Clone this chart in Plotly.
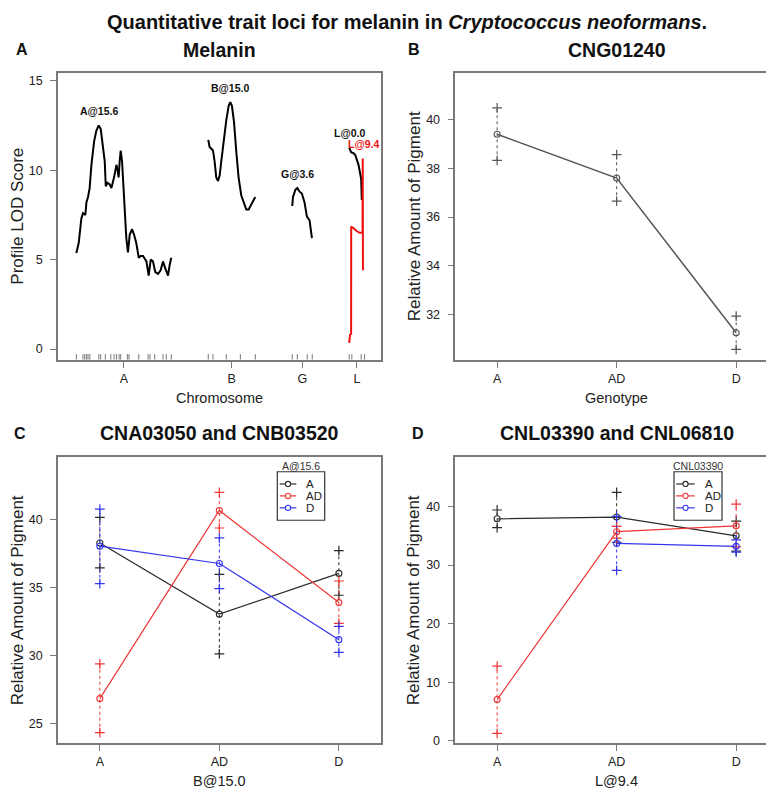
import plotly.graph_objects as go

W, H = 774, 789
FONT = "Liberation Sans, Arial, sans-serif"

# ---------------- Panel A : LOD profiles ----------------
chrom_names = ["A", "B", "G", "L"]
chrom_lengths = [64.2, 31.8, 13.5, 10.4]
chrom_gap = 25.0

markers_A = [0, 4.5, 5.7, 6.8, 7.9, 9.1, 15.2, 16.5, 19.6, 23.3, 25.5, 27.1, 28.9,
             30.0, 34.5, 35.6, 42.2, 48.5, 49.8, 53.0, 58.6, 60.8, 64.2]
markers_B = [0, 3.2, 12.2, 21.7, 31.8]
markers_G = [0, 3.4, 10.1, 13.5]
markers_L = [0, 1.8, 8.1, 10.4]

lod_A_pos = [0.0, 1.6, 3.4, 4.5, 6.1, 6.8, 7.9, 9.0, 10.2, 12.0, 13.5, 15.1, 16.5, 18.1,
             19.2, 19.9, 21.0, 22.6, 23.7, 25.5, 27.1, 27.7, 28.6, 29.3, 30.0, 30.9,
             32.3, 33.8, 34.9, 36.1, 37.7, 39.0, 40.6, 42.2, 43.5, 45.1, 47.4, 48.9,
             50.3, 51.8, 53.4, 55.2, 57.0, 58.6, 60.2, 62.0, 63.1, 64.2]
lod_A = [5.37, 5.93, 7.3, 7.6, 7.5, 8.2, 8.5, 9.0, 10.3, 11.6, 12.2, 12.5, 12.3, 11.2,
         10.5, 9.1, 9.3, 9.2, 9.0, 9.6, 10.3, 10.1, 9.6, 10.5, 11.1, 10.5,
         8.2, 6.2, 5.4, 6.4, 6.7, 6.4, 5.9, 5.1, 5.2, 5.2, 4.9, 4.1,
         5.0, 4.9, 4.3, 4.2, 4.4, 4.9, 4.5, 4.1, 4.7, 5.1]

lod_B_pos = [0.0, 0.9, 2.1, 3.2, 4.3, 5.4, 6.6, 7.7, 8.8, 10.6, 12.2, 13.8, 14.9, 16.0,
             17.4, 19.0, 20.5, 22.3, 24.1, 25.7, 27.3, 29.1, 30.2, 31.8]
lod_B = [11.7, 11.3, 11.2, 11.1, 10.5, 9.6, 9.4, 9.7, 10.5, 11.8, 12.8, 13.6, 13.8, 13.6,
         12.7, 11.0, 9.6, 8.6, 8.1, 7.8, 7.8, 8.1, 8.2, 8.5]

lod_G_pos = [0.0, 0.5, 2.1, 3.4, 5.0, 6.5, 8.3, 9.9, 11.7, 13.3]
lod_G = [8.0, 8.5, 8.9, 9.0, 8.8, 8.7, 8.2, 7.4, 7.2, 6.2]

lod_L_pos = [0.0, 1.35, 2.9, 4.1, 6.3, 7.4, 8.1, 8.5]
lod_L = [11.26, 11.0, 10.96, 10.85, 10.3, 9.7, 9.5, 8.33]

lod_L2_pos = [0.0, 0.6, 1.3, 1.35, 2.0, 3.0, 5.0, 7.0, 9.0, 9.15, 9.3]
lod_L2 = [0.35, 0.8, 0.85, 6.85, 6.8, 6.75, 6.6, 6.5, 6.5, 10.65, 4.4]

peak_labels = ["A@15.6", "B@15.0", "G@3.6", "L@0.0", "L@9.4"]

# ---------------- Panel B : CNG01240 ----------------
genotypes = ["A", "AD", "D"]
b_mean = [39.4, 37.6, 31.25]
b_upper = [40.48, 38.56, 31.93]
b_lower = [38.33, 36.65, 30.57]

# ---------------- Panel C : CNA03050 and CNB03520 ----------------
c_mean_A = [38.29, 33.05, 36.05]
c_up_A = [40.17, 35.98, 37.73]
c_lo_A = [36.46, 30.12, 34.44]
c_mean_AD = [26.83, 40.68, 33.9]
c_up_AD = [29.39, 42.02, 35.49]
c_lo_AD = [24.32, 39.39, 32.37]
c_mean_D = [38.05, 36.78, 31.17]
c_up_D = [40.78, 38.66, 32.15]
c_lo_D = [35.29, 34.93, 30.24]

# ---------------- Panel D : CNL03390 and CNL06810 ----------------
d_mean_A = [37.9, 38.2, 35.0]
d_up_A = [39.4, 42.4, 37.5]
d_lo_A = [36.4, 33.9, 32.4]
d_mean_AD = [7.06, 35.7, 36.7]
d_up_AD = [12.77, 36.6, 40.4]
d_lo_AD = [1.3, 34.6, 33.1]
d_mean_D = [None, 33.7, 33.2]
d_up_D = [None, 38.3, 34.3]
d_lo_D = [None, 29.1, 32.2]

legend_groups = ["A", "AD", "D"]

# ---------------- styling ----------------
BLK = "#2b2b2b"
RED = "#ee3535"
BLU = "#3535ee"
FRAME = "#7a7a7a"


def PX(x):
    return x / W


def PY(y):
    return 1 - y / H


fig = go.Figure()

# ---- Panel A traces ----
offsets = []
acc = 0.0
for L in chrom_lengths:
    offsets.append(acc)
    acc += L + chrom_gap
off = dict(zip(chrom_names, offsets))
curves = {"A": (lod_A_pos, lod_A), "B": (lod_B_pos, lod_B), "G": (lod_G_pos, lod_G),
          "L": (lod_L_pos, lod_L)}
for ch, (pos, lod) in curves.items():
    fig.add_trace(go.Scatter(x=[p + off[ch] for p in pos], y=lod, mode="lines",
                             line=dict(color="black", width=2), xaxis="x", yaxis="y",
                             showlegend=False, hoverinfo="skip"))
fig.add_trace(go.Scatter(x=[p + off["L"] for p in lod_L2_pos], y=lod_L2, mode="lines",
                         line=dict(color="#ee1111", width=2), xaxis="x", yaxis="y",
                         showlegend=False, hoverinfo="skip"))

A_YR = [-0.6, 15.46]
rug_len = 0.32
rx, ry = [], []
for ch, mk in zip(chrom_names, [markers_A, markers_B, markers_G, markers_L]):
    for m in mk:
        rx += [m + off[ch], m + off[ch], None]
        ry += [A_YR[0], A_YR[0] + rug_len, None]
fig.add_trace(go.Scatter(x=rx, y=ry, mode="lines", line=dict(color="#777", width=1),
                         xaxis="x", yaxis="y", showlegend=False, hoverinfo="skip"))

# peak labels
maxlod = {"A": max(lod_A), "B": max(lod_B), "G": max(lod_G), "L": max(lod_L)}
for lab in peak_labels:
    ch, p = lab.split("@")
    p = float(p)
    is_red = lab == peak_labels[-1]
    top = max(lod_L2) if is_red else maxlod[ch]
    fig.add_annotation(x=p + off[ch], y=top + 0.8, xref="x", yref="y", text="<b>%s</b>" % lab,
                       showarrow=False, font=dict(family=FONT, size=10.5,
                                                  color="#ee1111" if is_red else "#111"))

# ---- effect plot helpers ----
xpos = [i + 1 for i in range(len(genotypes))]


def add_effect(mean, up, lo, color, xa, ya, width=1.2):
    xs = [x for x, m in zip(xpos, mean) if m is not None]
    ms = [m for m in mean if m is not None]
    ex, ey, cx, cy = [], [], [], []
    for x, u, l in zip(xpos, up, lo):
        if u is None:
            continue
        ex += [x, x, None]
        ey += [l, u, None]
        cx += [x, x]
        cy += [l, u]
    fig.add_trace(go.Scatter(x=ex, y=ey, mode="lines", line=dict(color=color, width=1, dash="dot"),
                             xaxis=xa, yaxis=ya, showlegend=False, hoverinfo="skip"))
    fig.add_trace(go.Scatter(x=cx, y=cy, mode="markers",
                             marker=dict(symbol="cross-thin-open", size=7, color=color,
                                         line=dict(color=color, width=1.2)),
                             xaxis=xa, yaxis=ya, showlegend=False, hoverinfo="skip"))
    fig.add_trace(go.Scatter(x=xs, y=ms, mode="lines+markers", line=dict(color=color, width=width),
                             marker=dict(symbol="circle-open", size=6, color=color,
                                         line=dict(color=color, width=1.1)),
                             xaxis=xa, yaxis=ya, showlegend=False, hoverinfo="skip"))


add_effect(b_mean, b_upper, b_lower, "#555555", "x2", "y2", width=1.5)

add_effect(c_mean_A, c_up_A, c_lo_A, BLK, "x3", "y3")
add_effect(c_mean_AD, c_up_AD, c_lo_AD, RED, "x3", "y3")
add_effect(c_mean_D, c_up_D, c_lo_D, BLU, "x3", "y3")

add_effect(d_mean_A, d_up_A, d_lo_A, BLK, "x4", "y4")
add_effect(d_mean_AD, d_up_AD, d_lo_AD, RED, "x4", "y4")
add_effect(d_mean_D, d_up_D, d_lo_D, BLU, "x4", "y4")

# ---- axes ----
boxA = (50, 373, 65, 354)
boxB = (447.3, 770, 65, 354)
boxC = (50, 372.7, 451.7, 740)
boxD = (447.3, 770, 451.7, 740)

tickfont = dict(family=FONT, size=12.5, color="#222")


def xax(box, **kw):
    d = dict(domain=[PX(box[0]), PX(box[1])], showline=True, mirror=True, linecolor=FRAME,
             linewidth=1.5, ticks="outside", ticklen=6, tickcolor=FRAME, tickwidth=1.2,
             showgrid=False, zeroline=False, tickfont=tickfont, ticklabelstandoff=0)
    d.update(kw)
    return d


def yax(box, **kw):
    d = dict(domain=[PY(box[3]), PY(box[2])], showline=True, mirror=True, linecolor=FRAME,
             linewidth=1.5, ticks="outside", ticklen=6, tickcolor=FRAME, tickwidth=1.2,
             showgrid=False, zeroline=False, tickfont=tickfont, ticklabelstandoff=5)
    d.update(kw)
    return d


mids = [o + L / 2 for o, L in zip(offsets, chrom_lengths)]
eff_x = dict(tickvals=xpos, ticktext=genotypes, range=[0.65, 3.35])

fig.update_layout(
    width=W, height=H, margin=dict(l=0, r=0, t=0, b=0),
    paper_bgcolor="white", plot_bgcolor="white", showlegend=False,
    xaxis=xax(boxA, anchor="y", range=[-12.4, 206.0], tickvals=mids, ticktext=chrom_names),
    yaxis=yax(boxA, anchor="x", range=A_YR, tickvals=[0, 5, 10, 15]),
    xaxis2=xax(boxB, anchor="y2", **eff_x),
    yaxis2=yax(boxB, anchor="x2", range=[30.14, 41.93], tickvals=[32, 34, 36, 38, 40]),
    xaxis3=xax(boxC, anchor="y3", **eff_x),
    yaxis3=yax(boxC, anchor="x3", range=[23.54, 44.63], tickvals=[25, 30, 35, 40]),
    xaxis4=xax(boxD, anchor="y4", **eff_x),
    yaxis4=yax(boxD, anchor="x4", range=[-0.4, 48.47], tickvals=[0, 10, 20, 30, 40]),
)


def ann(text, x, y, size, bold=False, angle=0, color="#111", xanchor="center"):
    fig.add_annotation(text=("<b>%s</b>" % text) if bold else text, x=PX(x), y=PY(y),
                       xref="paper", yref="paper", showarrow=False, textangle=angle,
                       xanchor=xanchor, yanchor="middle",
                       font=dict(family=FONT, size=size, color=color))


ann("Quantitative trait loci for melanin in <i>Cryptococcus neoformans</i>.", 399, 14, 20, bold=True)
ann("A", 14, 42, 16, bold=True)
ann("B", 406, 42, 16, bold=True)
ann("C", 12.5, 428, 16, bold=True)
ann("D", 409.5, 428, 16, bold=True)
ann("Melanin", 211.5, 42, 19.5, bold=True)
ann("CNG01240", 608.5, 42, 19.5, bold=True)
ann("CNA03050 and CNB03520", 211.5, 428, 19.5, bold=True)
ann("CNL03390 and CNL06810", 608.5, 428, 19.5, bold=True)

ann("Chromosome", 211.5, 392, 14.5, color="#222")
ann("Genotype", 608.5, 392, 14.5, color="#222")
ann("B@15.0", 211.5, 778, 14.5, color="#222")
ann("L@9.4", 608.5, 778, 14.5, color="#222")
ann("Profile LOD Score", 9.5, 209.5, 17, angle=-90, color="#222")
ann("Relative Amount of Pigment", 406, 209.5, 17, angle=-90, color="#222")
ann("Relative Amount of Pigment", 9, 596, 17, angle=-90, color="#222")
ann("Relative Amount of Pigment", 405, 596, 17, angle=-90, color="#222")

# ---- legends (drawn) ----
legend_colors = [BLK, RED, BLU]


def draw_legend(title, bx0, bx1, by0, by1, lx0, lx1, tx, rows):
    fig.add_shape(type="rect", xref="paper", yref="paper", x0=PX(bx0), x1=PX(bx1),
                  y0=PY(by1), y1=PY(by0), line=dict(color="#333", width=1.2))
    ann(title, (bx0 + bx1) / 2, by0 - 6, 10.5, color="#333")
    cxm = (lx0 + lx1) / 2
    for g, col, ry_ in zip(legend_groups, legend_colors, rows):
        fig.add_shape(type="line", xref="paper", yref="paper", x0=PX(lx0), x1=PX(lx1),
                      y0=PY(ry_), y1=PY(ry_), line=dict(color=col, width=1.2))
        fig.add_shape(type="circle", xref="paper", yref="paper", x0=PX(cxm - 2.6), x1=PX(cxm + 2.6),
                      y0=PY(ry_ + 2.6), y1=PY(ry_ - 2.6), line=dict(color=col, width=1.1),
                      fillcolor="white")
        ann(g, tx, ry_, 11.5, color="#222", xanchor="left")


draw_legend("A@15.6", 269.3, 316.7, 466.7, 515.5, 271.7, 288.3, 295.5, [479, 491, 503])
draw_legend("CNL03390", 666, 714, 466.7, 515.5, 668.3, 686.7, 694.5, [479, 491, 503])

fig.write_html("out.html")
